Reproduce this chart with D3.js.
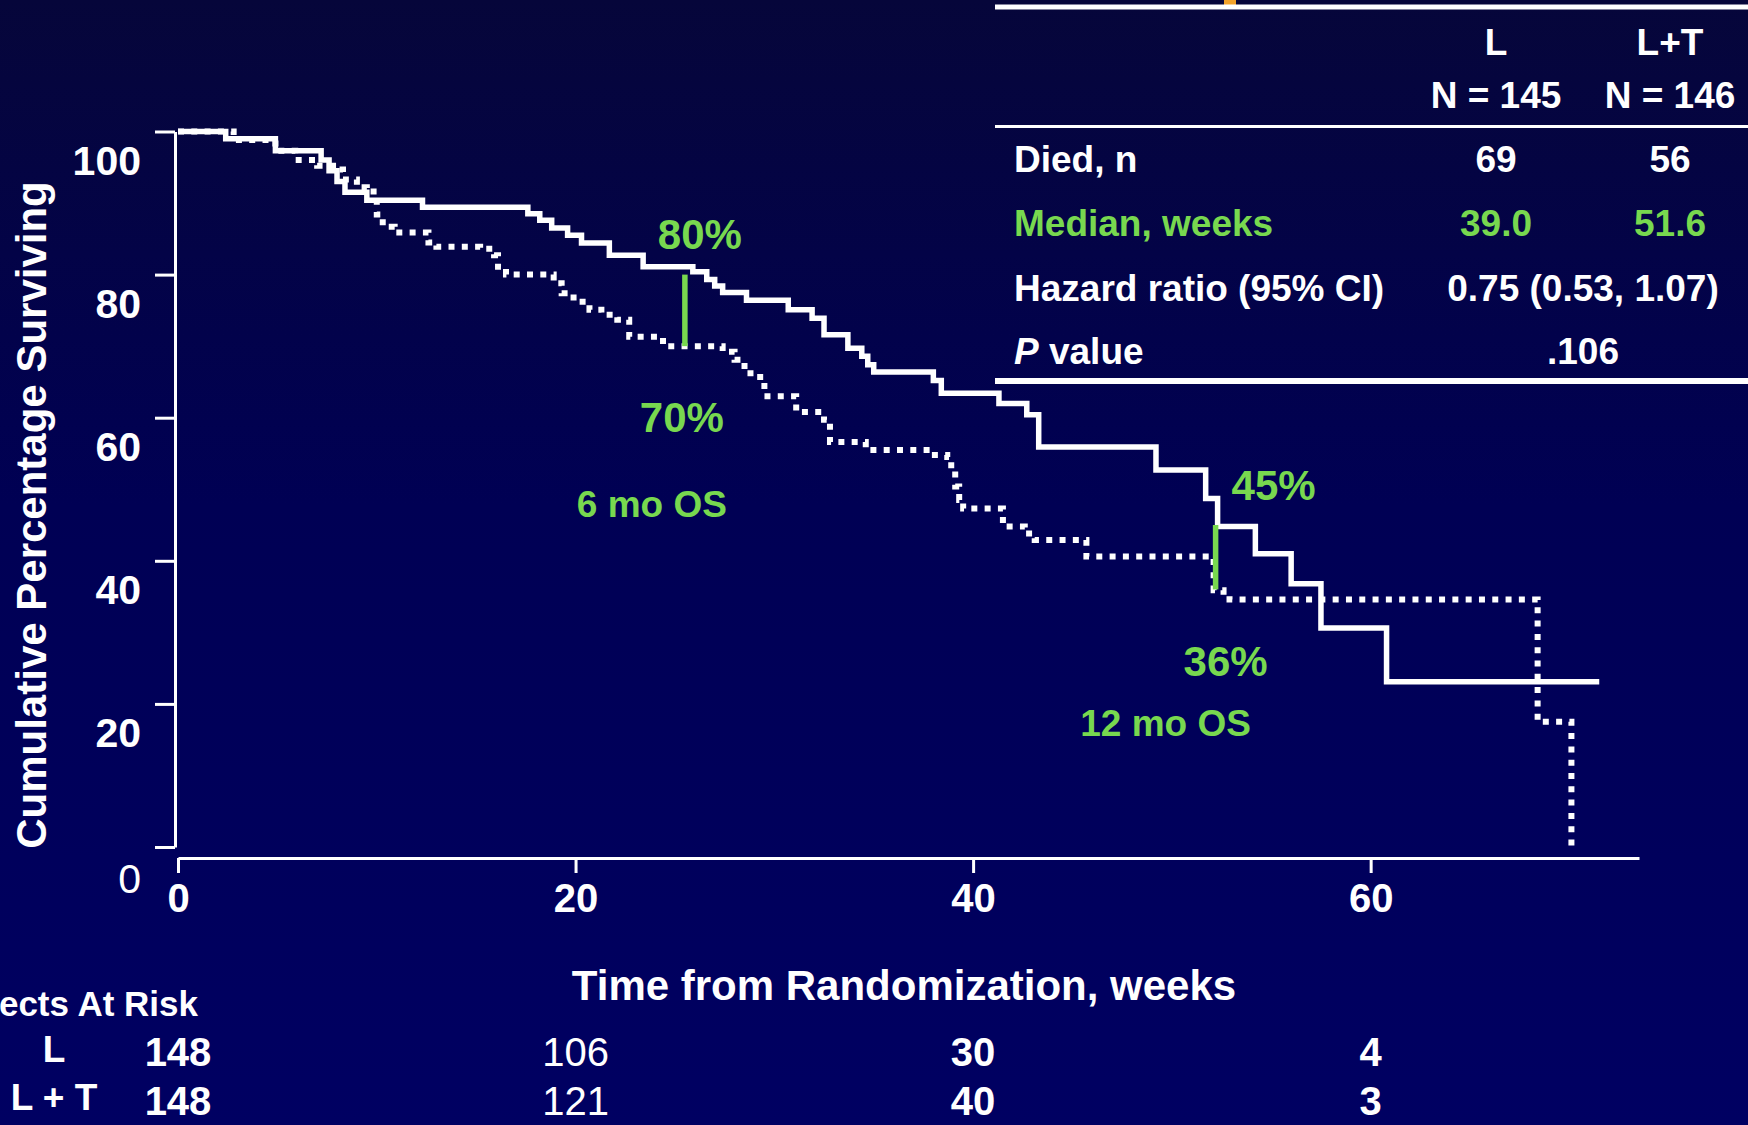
<!DOCTYPE html>
<html>
<head>
<meta charset="utf-8">
<script src="https://cdn.jsdelivr.net/npm/d3@7"></script>
<style>
  html, body { margin: 0; padding: 0; background: #000050; overflow: hidden; }
  svg { display: block; }
  text { font-family: "Liberation Sans", Arial, Helvetica, sans-serif; fill: #fff; font-weight: bold; }
</style>
</head>
<body>
<script>

// ----- Data -----

// Kaplan-Meier steps, L + T (solid line): week, % surviving
const weeksLT = [0, 2.4, 4.9, 7.2, 7.6, 8.0, 8.4, 9.5, 12.3, 17.6, 18.2, 18.8, 19.6, 20.3, 21.7, 23.4,
    25.9, 26.6, 27.0, 27.4, 28.6, 30.7, 31.9, 32.5, 33.7, 34.4, 34.7, 35.0, 38.0, 38.4, 41.3, 42.7,
    43.3, 49.2, 51.7, 52.3, 54.2, 56.0, 57.5, 60.8, 71.5];
const survLT = [100, 99.0, 97.3, 96.0, 94.5, 93.0, 91.5, 90.4, 89.4, 88.5, 87.6, 86.5, 85.5, 84.4, 82.7, 81.1,
    80.4, 79.3, 78.4, 77.5, 76.4, 75.1, 73.9, 71.6, 69.7, 68.6, 67.4, 66.4, 65.2, 63.4, 62.0, 60.4,
    55.9, 52.7, 48.7, 44.8, 41.0, 36.8, 30.6, 23.1, 23.1];

// Kaplan-Meier steps, L (dotted line)
const weeksL = [0, 2.8, 4.9, 5.9, 7.0, 7.8, 8.3, 9.0, 9.5, 10.0, 10.3, 10.9, 12.6, 13.0, 15.2, 15.9, 16.1,
    16.5, 18.9, 19.3, 19.9, 20.7, 21.3, 22.1, 22.7, 24.4, 27.4, 28.0, 28.5, 28.8, 29.5, 31.1, 32.5,
    32.8, 34.6, 37.9, 38.7, 38.9, 39.1, 39.3, 39.5, 41.5, 42.6, 43.1, 45.7, 52.1, 52.6, 52.9, 68.4, 70.1];
const survL = [100, 98.8, 97.3, 96.0, 95.2, 94.7, 93.3, 92.2, 91.6, 88.4, 86.7, 85.9, 84.5, 83.9, 83.6, 82.7, 81.1,
    80.0, 78.8, 77.4, 76.2, 75.1, 74.4, 73.7, 71.3, 70.0, 69.2, 68.1, 66.7, 65.7, 63.0, 60.8, 59.7,
    56.6, 55.5, 54.8, 54.5, 52.7, 50.4, 48.5, 47.3, 44.8, 43.8, 42.9, 40.6, 35.9, 35.2, 34.6, 17.5, 0];

const xTicks = [0, 20, 40, 60];
const yTicks = [0, 20, 40, 60, 80, 100];

// 6 and 12 month overall survival markers
const osWeeks = [25.5, 52.2];
const osL = [70, 36];
const osLT = [80, 45];
const osNames = ["6 mo OS", "12 mo OS"];

// Subjects at risk
const atRiskGroups = ["L", "L + T"];
const atRiskL = [148, 106, 30, 4];
const atRiskLT = [148, 121, 40, 3];

// Summary table
const tableHeads = ["L", "L+T"];
const tableNs = ["N = 145", "N = 146"];
const tableRows = ["Died, n", "Median, weeks", "Hazard ratio (95% CI)", "P value"];
const rowValuesL = ["69", "39.0"];
const rowValuesLT = ["56", "51.6"];
const rowValuesBoth = ["0.75 (0.53, 1.07)", ".106"];


// ----- Setup -----

const W = 1748, H = 1125;
const GREEN = "#78d84f";

const svg = d3.select("body").append("svg")
    .attr("width", W)
    .attr("height", H);

const grad = svg.append("defs").append("linearGradient")
    .attr("id", "bg")
    .attr("x1", 0).attr("y1", 0).attr("x2", 0).attr("y2", 1);
grad.append("stop").attr("offset", "0%").attr("stop-color", "#06063a");
grad.append("stop").attr("offset", "45%").attr("stop-color", "#000054");
grad.append("stop").attr("offset", "100%").attr("stop-color", "#000062");
svg.append("rect").attr("width", W).attr("height", H).attr("fill", "url(#bg)");

const x = d3.scaleLinear().domain([0, 73.5]).range([178, 1639]);
const y = d3.scaleLinear().domain([0, 100]).range([847, 131.5]);

// centred text helper
function label(g, txt, cx, cy, size, anchor = "middle") {
    return g.append("text")
        .attr("x", cx)
        .attr("y", cy)
        .attr("dy", "0.36em")
        .attr("text-anchor", anchor)
        .style("font-size", size + "px")
        .text(txt);
}


// ----- Axes -----

const xAxisG = svg.append("g")
    .attr("transform", "translate(0,858)")
    .call(d3.axisBottom(x).tickValues(xTicks).tickSize(15).tickSizeOuter(0));
xAxisG.select(".domain").attr("stroke", "#fff").attr("stroke-width", 3);
xAxisG.selectAll(".tick line").attr("stroke", "#fff").attr("stroke-width", 3);
xAxisG.selectAll(".tick text")
    .attr("y", 40)
    .attr("dy", "0.36em")
    .style("font-size", "40px");

const yAxisG = svg.append("g")
    .attr("transform", "translate(175,0)")
    .call(d3.axisLeft(y).tickValues(yTicks).tickSize(20).tickSizeOuter(0));
yAxisG.select(".domain").attr("stroke", "#fff").attr("stroke-width", 3);
yAxisG.selectAll(".tick line").attr("stroke", "#fff").attr("stroke-width", 3);
yAxisG.selectAll(".tick text")
    .attr("x", -34)
    .attr("y", d => d === 0 ? 31 : 28)
    .attr("dy", "0.36em")
    .style("font-size", "41px")
    .style("font-weight", d => d === 0 ? "normal" : "bold");

label(svg, "Time from Randomization, weeks", 904, 985, 42);

label(svg, "Cumulative Percentage Surviving", 0, 0, 42)
    .attr("transform", "translate(31,515) rotate(-90)");


// ----- Survival curves -----

const line = d3.line()
    .x(d => x(d[0]))
    .y(d => y(d[1]))
    .curve(d3.curveStepAfter);

svg.append("path")
    .datum(d3.zip(weeksL, survL))
    .attr("d", line)
    .attr("fill", "none")
    .attr("stroke", "#fff")
    .attr("stroke-width", 6)
    .attr("stroke-dasharray", "6,7.3");

svg.append("path")
    .datum(d3.zip(weeksLT, survLT))
    .attr("d", line)
    .attr("fill", "none")
    .attr("stroke", "#fff")
    .attr("stroke-width", 5.5);


// ----- OS markers -----

const os = svg.append("g").attr("class", "os");
osWeeks.forEach((w, i) => {
    os.append("line")
        .attr("x1", x(w)).attr("x2", x(w))
        .attr("y1", y(osL[i])).attr("y2", y(osLT[i]))
        .attr("stroke", GREEN)
        .attr("stroke-width", 5.5);
});
const osText = [
    [osLT[0] + "%", x(osWeeks[0]) + 15, y(osLT[0]) - 41, 42],
    [osL[0] + "%", x(osWeeks[0]) - 3, y(osL[0]) + 71, 42],
    [osNames[0], x(osWeeks[0]) - 33, y(osL[0]) + 158, 37],
    [osLT[1] + "%", x(osWeeks[1]) + 58, y(osLT[1]) - 40, 42],
    [osL[1] + "%", x(osWeeks[1]) + 10, y(osL[1]) + 71, 42],
    [osNames[1], x(osWeeks[1]) - 50, y(osL[1]) + 133, 37]
];
osText.forEach(t => label(os, t[0], t[1], t[2], t[3]).style("fill", GREEN));


// ----- Subjects at risk -----

const risk = svg.append("g").attr("class", "at-risk");
label(risk, "Subjects At Risk", 198, 1003, 35, "end");
label(risk, atRiskGroups[0], 54, 1049, 37);
label(risk, atRiskGroups[1], 54, 1097, 37);
xTicks.forEach((w, i) => {
    label(risk, atRiskL[i], x(w), 1052, 40).style("font-weight", i === 1 ? "normal" : "bold");
    label(risk, atRiskLT[i], x(w), 1101, 40).style("font-weight", i === 1 ? "normal" : "bold");
});


// ----- Summary table -----

const table = svg.append("g").attr("class", "table");
const colL = 1496, colLT = 1670, colBoth = 1583, rowX = 1014;
const rowY = [159, 223, 288, 351];

table.append("rect").attr("x", 1224).attr("y", 0).attr("width", 12).attr("height", 6).attr("fill", "#f2a22a");
table.append("line").attr("x1", 995).attr("x2", W).attr("y1", 7).attr("y2", 7)
    .attr("stroke", "#fff").attr("stroke-width", 5);
table.append("line").attr("x1", 995).attr("x2", W).attr("y1", 126.5).attr("y2", 126.5)
    .attr("stroke", "#fff").attr("stroke-width", 3);
table.append("line").attr("x1", 995).attr("x2", W).attr("y1", 381).attr("y2", 381)
    .attr("stroke", "#fff").attr("stroke-width", 6);

label(table, tableHeads[0], colL, 42, 37);
label(table, tableHeads[1], colLT, 42, 37);
label(table, tableNs[0], colL, 95, 37);
label(table, tableNs[1], colLT, 95, 37);

tableRows.forEach((r, i) => {
    const t = label(table, "", rowX, rowY[i], 37, "start");
    if (r.startsWith("P ")) {
        t.append("tspan").style("font-style", "italic").text("P");
        t.append("tspan").text(r.slice(1));
    } else {
        t.text(r);
    }
    if (i === 1) t.style("fill", GREEN);
});
rowValuesL.forEach((v, i) => {
    label(table, v, colL, rowY[i], 37).style("fill", i === 1 ? GREEN : "#fff");
    label(table, rowValuesLT[i], colLT, rowY[i], 37).style("fill", i === 1 ? GREEN : "#fff");
});
rowValuesBoth.forEach((v, i) => label(table, v, colBoth, rowY[i + 2], 37));

</script>
</body>
</html>
